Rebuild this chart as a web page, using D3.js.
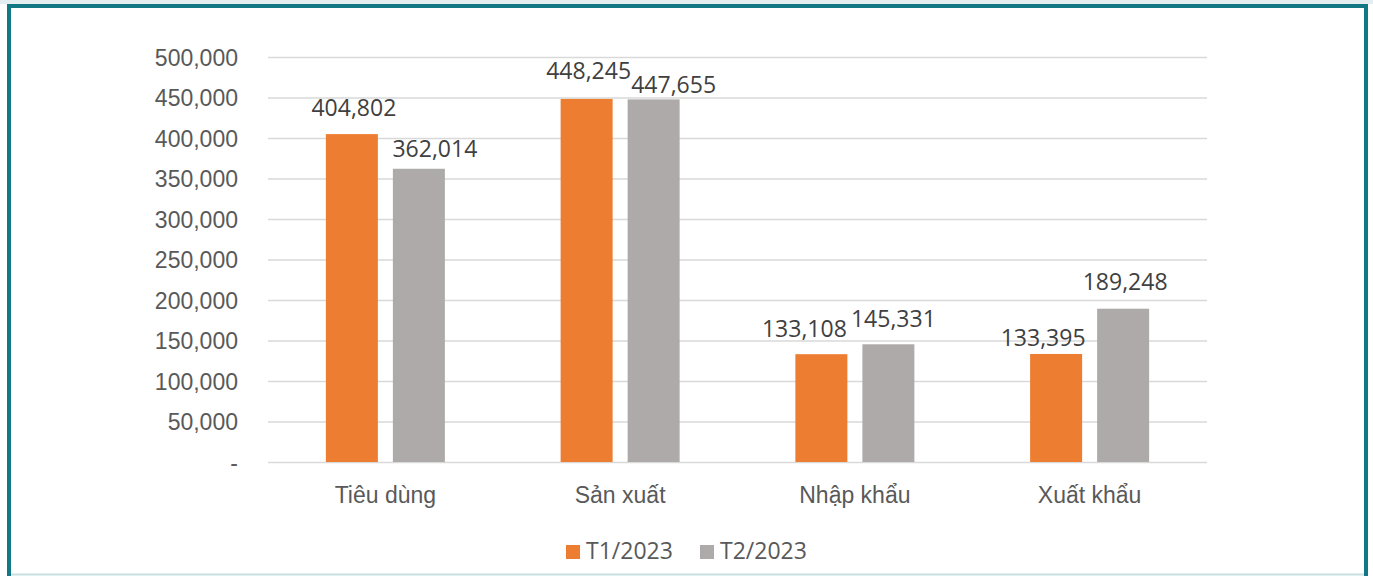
<!DOCTYPE html>
<html>
<head>
<meta charset="utf-8">
<script src="https://cdn.jsdelivr.net/npm/d3@7"></script>
<style>
  body { margin: 0; background: #fff; }
  svg { display: block; font-family: "Open Sans", "Noto Sans", sans-serif; }
  .axis text { fill: #595959; font-size: 23px; }
  .axis .domain { display: none; }
</style>
</head>
<body>
<svg id="chart"></svg>
<script>
// data
const categories = ['Tiêu dùng', 'Sản xuất', 'Nhập khẩu', 'Xuất khẩu'];
const seriesNames = ['T1/2023', 'T2/2023'];
const t1Values = [404802, 448245, 133108, 133395];
const t2Values = [362014, 447655, 145331, 189248];
const yTicks = [0, 50000, 100000, 150000, 200000, 250000, 300000, 350000, 400000, 450000, 500000];

const colors = {'T1/2023': '#ED7D31', 'T2/2023': '#AEAAAA'};
// data labels were hand placed in the original, nudges per [series][category]
const labelNudge = [
    [[2, -18], [2, -20], [-17, -17], [-13, -8]],
    [[16, -12], [20, -6], [5, -17], [2, -19]]
];

const W = 1373, H = 576;
const margin = {top: 57, right: 166, bottom: 114, left: 268};
const width = W - margin.left - margin.right;
const height = H - margin.top - margin.bottom;

const svg = d3.select('#chart').attr('width', W).attr('height', H);

// frame
svg.append('rect').attr('x', 0).attr('y', 0).attr('width', W).attr('height', 4).attr('fill', '#e4eef0');
svg.append('path')
    .attr('d', `M9,${H} V6 H1366 V${H}`)
    .attr('fill', 'none')
    .attr('stroke', '#127884')
    .attr('stroke-width', 4);
svg.append('line').attr('x1', 11).attr('x2', 1364).attr('y1', 574.5).attr('y2', 574.5)
    .attr('stroke', '#c9dfe2').attr('stroke-width', 2);

const chart = svg.append('g').attr('transform', `translate(${margin.left},${margin.top})`);

const x0 = d3.scaleBand().domain(categories).range([0, width])
    .paddingInner(0.493).paddingOuter(0.2465);
const x1 = d3.scaleBand().domain(seriesNames).range([0, x0.bandwidth()]).paddingInner(0.224);
const y = d3.scaleLinear().domain([0, 500000]).range([height, 0]);

const fmt = d3.format(',');

const yAxisG = chart.append('g').attr('class', 'axis')
    .call(d3.axisLeft(y).tickValues(yTicks).tickSize(-width).tickPadding(30)
        .tickFormat(d => d === 0 ? '-' : fmt(d)));
yAxisG.selectAll('.tick line').attr('stroke', '#d9d9d9').attr('stroke-width', 1.5);
yAxisG.selectAll('.tick text').attr('dy', '0.36em');

const xAxisG = chart.append('g').attr('class', 'axis')
    .attr('transform', `translate(0,${height})`)
    .call(d3.axisBottom(x0).tickSize(0).tickPadding(0));
xAxisG.selectAll('.tick text').attr('y', 41).attr('dy', 0);

const rows = categories.map((c, i) => ({cat: c, i: i, vals: [t1Values[i], t2Values[i]]}));

const groups = chart.selectAll('.grp')
    .data(rows)
    .join('g')
    .attr('class', 'grp')
    .attr('transform', d => `translate(${x0(d.cat)},0)`);

groups.selectAll('rect')
    .data(d => seriesNames.map((s, k) => ({s: s, k: k, i: d.i, v: d.vals[k]})))
    .join('rect')
    .attr('x', d => x1(d.s))
    .attr('width', x1.bandwidth())
    .attr('y', d => y(d.v))
    .attr('height', d => y(0) - y(d.v))
    .attr('fill', d => colors[d.s]);

groups.selectAll('.lbl')
    .data(d => seriesNames.map((s, k) => ({s: s, k: k, i: d.i, v: d.vals[k]})))
    .join('text')
    .attr('class', 'lbl')
    .attr('x', d => x1(d.s) + x1.bandwidth() / 2 + labelNudge[d.k][d.i][0])
    .attr('y', d => y(d.v) + labelNudge[d.k][d.i][1])
    .attr('text-anchor', 'middle')
    .attr('fill', '#404040')
    .style('font-size', '23px')
    .text(d => fmt(d.v));

// legend
const legend = svg.append('g').attr('transform', 'translate(566,559)');
const legendX = [0, 134];
seriesNames.forEach((s, k) => {
    const g = legend.append('g').attr('transform', `translate(${legendX[k]},0)`);
    g.append('rect').attr('x', 0).attr('y', -14).attr('width', 14).attr('height', 14).attr('fill', colors[s]);
    g.append('text').attr('x', 20).attr('y', 0).attr('fill', '#595959').style('font-size', '23px').text(s);
});
</script>
</body>
</html>
